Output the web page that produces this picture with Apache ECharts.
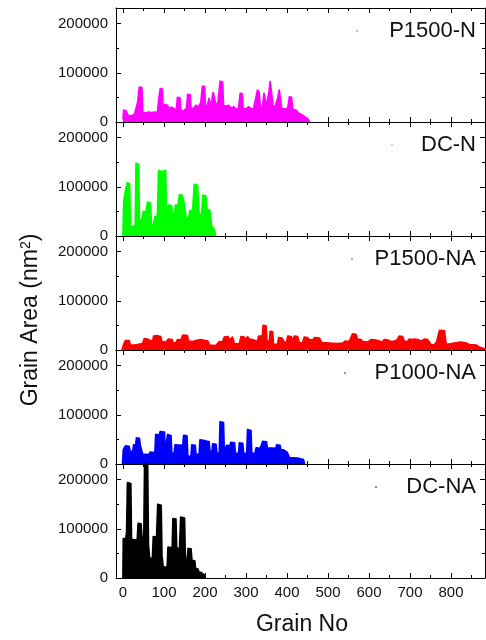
<!DOCTYPE html>
<html>
<head>
<meta charset="utf-8">
<script src="https://cdn.jsdelivr.net/npm/echarts@6/dist/echarts.min.js"></script>
<style>html,body{margin:0;padding:0;background:#fff}#chart{width:486px;height:640px}</style>
</head>
<body>
<div id="chart"></div>
<script>
// grain number vs grain area, one panel per sample
var panelNames = ['P1500-N', 'DC-N', 'P1500-NA', 'P1000-NA', 'DC-NA'];
var panelColors = ['#ff00ff', '#00ff00', '#ff0000', '#0000ff', '#000000'];

var xMajorTicks = [0, 100, 200, 300, 400, 500, 600, 700, 800];
var xMinorTicks = [50, 150, 250, 350, 450, 550, 650, 750, 850];
var yMajorTicks = [0, 100000, 200000];
var yMinorTicks = [50000, 150000];

// [grain no, grain area]
var p1500N = [[0,5000],[2,24000],[8,22000],[12,14000],[18,12000],[22,16000],[28,15000],[32,14000],[36,40000],[40,71000],[46,70000],[48,20000],[55,18000],[62,20000],[70,19000],[78,20000],[84,19000],[88,50000],[91,68000],[96,67000],[98,20000],[102,36000],[108,34000],[112,28000],[118,30000],[124,28000],[130,22000],[133,50000],[139,49000],[141,24000],[148,22000],[155,28000],[158,56000],[164,55000],[166,26000],[172,28000],[178,34000],[184,30000],[190,40000],[194,73000],[199,72000],[201,30000],[206,34000],[210,48000],[213,32000],[217,45000],[220,60000],[224,58000],[227,33000],[232,40000],[237,83000],[243,81000],[245,34000],[252,32000],[258,34000],[264,28000],[270,31000],[276,26000],[282,28000],[286,58000],[291,57000],[293,27000],[300,26000],[306,31000],[312,28000],[318,25000],[324,48000],[328,65000],[332,60000],[335,30000],[340,28000],[344,58000],[348,57000],[350,30000],[356,60000],[359,82000],[363,80000],[366,32000],[372,33000],[378,50000],[381,65000],[385,63000],[387,28000],[395,26000],[402,28000],[406,51000],[411,50000],[414,25000],[422,24000],[430,17000],[438,14000],[444,10000],[450,7000],[455,0]];

var dcN = [[0,0],[2,71000],[6,91000],[10,108000],[16,106000],[18,20000],[24,18000],[30,22000],[32,148000],[38,146000],[40,34000],[45,30000],[50,50000],[56,48000],[60,69000],[67,67000],[69,24000],[74,22000],[78,40000],[84,38000],[87,133000],[95,131000],[98,135000],[104,133000],[106,47000],[110,45000],[112,63000],[118,62000],[121,45000],[126,44000],[128,63000],[134,62000],[138,84000],[144,83000],[148,72000],[152,70000],[154,37000],[160,35000],[163,52000],[170,50000],[174,105000],[182,103000],[185,45000],[192,44000],[195,83000],[202,81000],[205,55000],[212,52000],[216,20000],[222,14000],[226,0]];

var p1500NA = [[-2,0],[2,12000],[6,19000],[15,19000],[18,10000],[28,10000],[32,14000],[48,13000],[52,23000],[60,22000],[64,18000],[72,17000],[75,28000],[84,29000],[92,27000],[95,17000],[105,16000],[111,22000],[120,21000],[122,15000],[129,14000],[133,21000],[141,20000],[146,30000],[157,29000],[160,18000],[170,17000],[178,19000],[190,21000],[200,19000],[207,18000],[211,10000],[227,9000],[235,17000],[243,16000],[247,26000],[256,27000],[260,20000],[267,26000],[272,12000],[284,13000],[288,27000],[296,26000],[300,20000],[304,27000],[308,22000],[316,21000],[320,18000],[328,17000],[331,28000],[340,28000],[342,50000],[349,49000],[351,18000],[357,17000],[359,38000],[365,37000],[367,11000],[377,12000],[380,25000],[388,24000],[394,15000],[399,16000],[402,28000],[410,27000],[414,20000],[418,28000],[426,27000],[430,15000],[438,14000],[442,26000],[450,25000],[455,21000],[463,20000],[467,25000],[479,24000],[485,15000],[503,14000],[507,14000],[520,13000],[524,15000],[536,14000],[542,18000],[552,17000],[560,33000],[568,32000],[572,22000],[580,21000],[585,17000],[597,16000],[605,21000],[617,20000],[621,17000],[633,16000],[637,21000],[646,20000],[651,18000],[659,17000],[668,20000],[674,28000],[682,27000],[686,18000],[694,17000],[698,22000],[706,21000],[711,22000],[719,21000],[727,18000],[735,22000],[743,21000],[751,11000],[759,10000],[765,16000],[772,40000],[784,39000],[788,12000],[796,12000],[800,16000],[815,15000],[825,16000],[837,14000],[845,11000],[861,10000],[869,6000],[880,3000],[886,0]];

var p1000NA = [[-1,0],[1,29000],[6,37000],[15,36000],[17,26000],[24,25000],[26,39000],[31,38000],[33,53000],[40,52000],[42,38000],[48,20000],[64,19000],[66,24000],[78,23000],[80,60000],[89,59000],[91,66000],[101,65000],[103,26000],[107,25000],[109,60000],[117,58000],[119,22000],[125,21000],[127,39000],[146,38000],[148,58000],[156,57000],[158,16000],[166,15000],[168,39000],[176,38000],[178,20000],[186,19000],[188,49000],[196,48000],[198,46000],[210,45000],[212,26000],[217,25000],[219,41000],[227,40000],[229,22000],[235,21000],[237,86000],[245,84000],[247,26000],[251,25000],[253,38000],[261,37000],[263,44000],[272,43000],[274,22000],[282,21000],[284,43000],[292,42000],[294,22000],[302,21000],[304,70000],[312,68000],[314,22000],[322,21000],[325,33000],[335,32000],[341,46000],[350,45000],[352,33000],[373,32000],[375,39000],[383,38000],[385,29000],[393,28000],[400,24000],[406,13000],[426,12000],[428,10000],[440,9000],[443,0]];

var dcNA = [[0,0],[1,80000],[7,80000],[9,93000],[11,194000],[19,192000],[21,57000],[24,78000],[35,77000],[37,111000],[44,110000],[46,84000],[51,84000],[53,240000],[60,240000],[62,67000],[65,40000],[72,40000],[74,84000],[82,83000],[85,150000],[93,148000],[95,45000],[98,22000],[108,22000],[110,63000],[117,62000],[120,50000],[122,121000],[129,120000],[131,60000],[138,60000],[141,124000],[150,122000],[152,40000],[157,40000],[159,60000],[166,59000],[168,36000],[175,35000],[177,19000],[183,18000],[185,12000],[191,11000],[193,7000],[198,6000],[200,0]];

var panelData = [p1500N, dcN, p1500NA, p1000NA, dcNA];

var FONT = '"Liberation Sans", Arial, sans-serif';
var panelTop = 8, panelH = 114;
var xMin = -17, xMax = 883, yMax = 232000;
var dotX = [357, 392, 352, 345, 376];

var div = document.getElementById('chart');
var myChart = echarts.init(div);

function plainNum(v) { return String(v); }

function xAxisOf(g, pos, ticks, len, showLine, showLabel) {
    return {
        type: 'value', gridIndex: g, position: pos, min: xMin, max: xMax,
        axisLine: { show: showLine, onZero: false, lineStyle: { color: '#000', width: 1 } },
        axisTick: { show: true, inside: true, length: len, customValues: ticks, lineStyle: { color: '#000', width: 1 } },
        axisLabel: { show: showLabel, customValues: xMajorTicks, formatter: plainNum, color: '#111', fontSize: 15, fontFamily: FONT, margin: 7 },
        splitLine: { show: false }
    };
}
function yAxisOf(g, pos, ticks, len, showLine, showLabel) {
    return {
        type: 'value', gridIndex: g, position: pos, min: 0, max: yMax,
        axisLine: { show: showLine, onZero: false, lineStyle: { color: '#000', width: 1 } },
        axisTick: { show: true, inside: true, length: len, customValues: ticks, lineStyle: { color: '#000', width: 1 } },
        axisLabel: { show: showLabel, customValues: yMajorTicks, formatter: plainNum, color: '#111', fontSize: 15, fontFamily: FONT, margin: 8 },
        splitLine: { show: false }
    };
}

var grids = [], xAxes = [], yAxes = [], series = [], graphics = [];
for (var i = 0; i < panelNames.length; i++) {
    var panelY = panelTop + i * panelH;
    grids.push({ left: 116, right: 1, top: panelY, height: panelH, containLabel: false, outerBoundsMode: 'none' });
    xAxes.push(xAxisOf(i, 'bottom', xMajorTicks, 5, true, i === panelNames.length - 1));
    xAxes.push(xAxisOf(i, 'bottom', xMinorTicks, 3, false, false));
    xAxes.push(xAxisOf(i, 'top', xMajorTicks, 5, true, false));
    xAxes.push(xAxisOf(i, 'top', xMinorTicks, 3, false, false));
    yAxes.push(yAxisOf(i, 'left', yMajorTicks, 5, true, true));
    yAxes.push(yAxisOf(i, 'left', yMinorTicks, 3, false, false));
    yAxes.push(yAxisOf(i, 'right', yMajorTicks, 5, true, false));
    yAxes.push(yAxisOf(i, 'right', yMinorTicks, 3, false, false));

    series.push({
        type: 'line', name: panelNames[i], xAxisIndex: i * 4, yAxisIndex: i * 4,
        data: panelData[i], symbol: 'none', silent: true,
        lineStyle: { color: panelColors[i], width: 1.8, join: 'round' },
        itemStyle: { color: panelColors[i] },
        areaStyle: { color: panelColors[i], opacity: 1 }
    });

    // 面板名称 + 图例小点
    graphics.push({
        type: 'text', x: 476, y: panelY + 23,
        style: { text: panelNames[i], font: '22px ' + FONT, fill: '#111', textAlign: 'right', textVerticalAlign: 'middle' }
    });
    graphics.push({
        type: 'circle', shape: { cx: dotX[i], cy: panelY + 23, r: 0.8 },
        style: { fill: panelColors[i] }
    });
}

graphics.push({
    type: 'text', x: 302, y: 625,
    style: { text: 'Grain No', font: '23px ' + FONT, fill: '#111', textAlign: 'center', textVerticalAlign: 'middle' }
});
graphics.push({
    type: 'text', x: 31, y: 320, rotation: Math.PI / 2,
    style: {
        text: 'Grain Area (nm{sup|2})', font: '23px ' + FONT, fill: '#111',
        textAlign: 'center', textVerticalAlign: 'middle',
        rich: { sup: { fontSize: 14, fontFamily: FONT, fill: '#111', verticalAlign: 'top', padding: [0, 0, 10, 0] } }
    }
});

option = {
    animation: false,
    backgroundColor: '#fff',
    grid: grids,
    xAxis: xAxes,
    yAxis: yAxes,
    series: series,
    graphic: graphics
};

myChart.setOption(option);
</script>
</body>
</html>
